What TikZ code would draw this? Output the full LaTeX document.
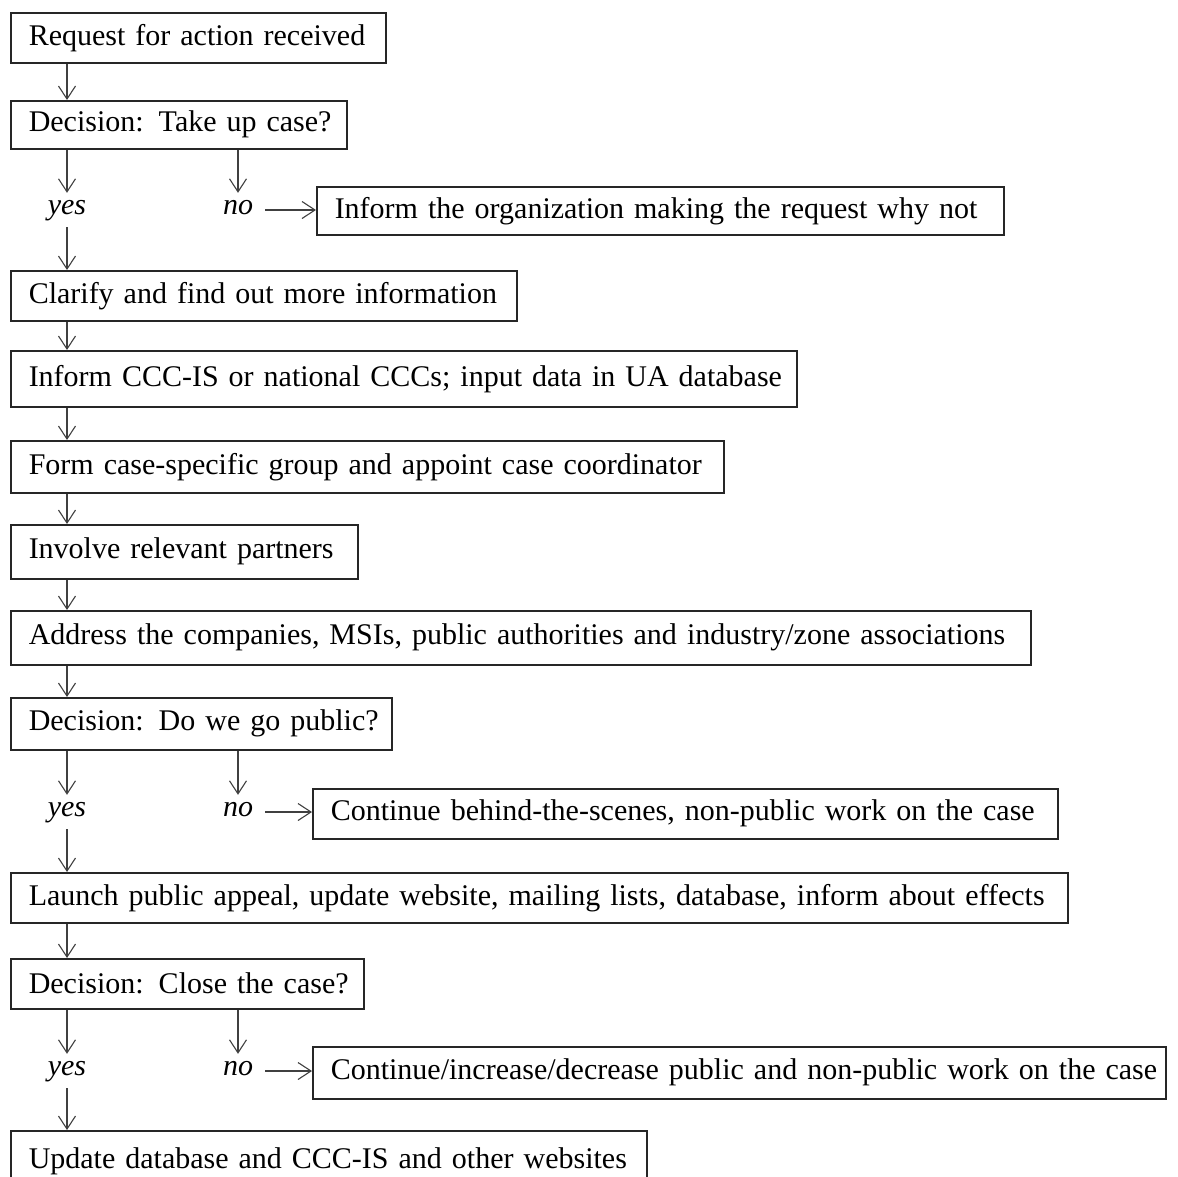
\documentclass[tikz,border=0pt]{standalone}
\usepackage{fontspec}
\setmainfont{Liberation Serif}
\usetikzlibrary{arrows.meta}
\begin{document}
\begin{tikzpicture}[x=1pt,y=-1pt,
  box/.style={draw=black!85, line width=1.5pt, anchor=north west, inner xsep=18pt, inner ysep=0pt, align=left, font=\fontsize{30}{34}\selectfont},
  lbl/.style={inner xsep=12pt, inner ysep=8pt, text height=13pt, text depth=5pt, font=\fontsize{30}{34}\selectfont\itshape},
  arr/.style={draw=black!75, line width=1.1pt, -{Straight Barb[length=13pt,width=17pt,line width=1.1pt]}}
]
\newcommand\fbx[6]{%
  \pgfmathsetmacro\bw{#4-#2-36}\pgfmathsetmacro\bh{#5-#3}%
  \node[box, text width=\bw pt, minimum height=\bh pt] (#1) at (#2,#3) {\mbox{#6}};}
\useasboundingbox[fill=white] (0,0) rectangle (1178,1176);
\fbx{b1}{10}{12}{385}{62}{Request for action received}
\fbx{b2}{10}{100}{346}{148}{Decision: Take up case?}
\fbx{n1}{316}{186}{1003}{234}{Inform the organization making the request why not}
\fbx{b3}{10}{270}{516}{320}{Clarify and find out more information}
\fbx{b4}{10}{350}{796}{406}{Inform CCC-IS or national CCCs; input data in UA database}
\fbx{b5}{10}{440}{723}{492}{Form case-specific group and appoint case coordinator}
\fbx{b6}{10}{524}{357}{578}{Involve relevant partners}
\fbx{b7}{10}{610}{1030}{664}{Address the companies, MSIs, public authorities and industry/zone associations}
\fbx{b8}{10}{697}{391}{749}{Decision: Do we go public?}
\fbx{n2}{312}{788}{1057}{838}{Continue behind-the-scenes, non-public work on the case}
\fbx{b9}{10}{872}{1067}{922}{Launch public appeal, update website, mailing lists, database, inform about effects}
\fbx{b10}{10}{958}{363}{1008}{Decision: Close the case?}
\fbx{n3}{312}{1046}{1165}{1098}{Continue/increase/decrease public and non-public work on the case}
\fbx{b11}{10}{1130}{646}{1192}{Update database and CCC-IS and other websites}
% yes / no labels
\node[lbl] (y1) at (67,210) {yes};
\node[lbl] (o1) at (238,210) {no};
\node[lbl] (y2) at (67,812) {yes};
\node[lbl] (o2) at (238,812) {no};
\node[lbl] (y3) at (67,1071) {yes};
\node[lbl] (o3) at (238,1071) {no};
% straight connectors
\foreach \a/\b in {b1/b2,b3/b4,b4/b5,b5/b6,b6/b7,b7/b8,b9/b10}
  \draw[arr] ([xshift=57pt]\a.south west) -- ([xshift=57pt]\b.north west);
% decisions
\foreach \d/\y/\o/\n/\nx in {b2/y1/o1/n1/b3, b8/y2/o2/n2/b9, b10/y3/o3/n3/b11}{
  \draw[arr] (\d.south -| \y.north) -- (\y.north);
  \draw[arr] (\d.south -| \o.north) -- (\o.north);
  \draw[arr] (\o.east) -- (\n.west |- \o.east);
  \draw[arr] (\y.south) -- (\nx.north -| \y.south);
}
\end{tikzpicture}
\end{document}
